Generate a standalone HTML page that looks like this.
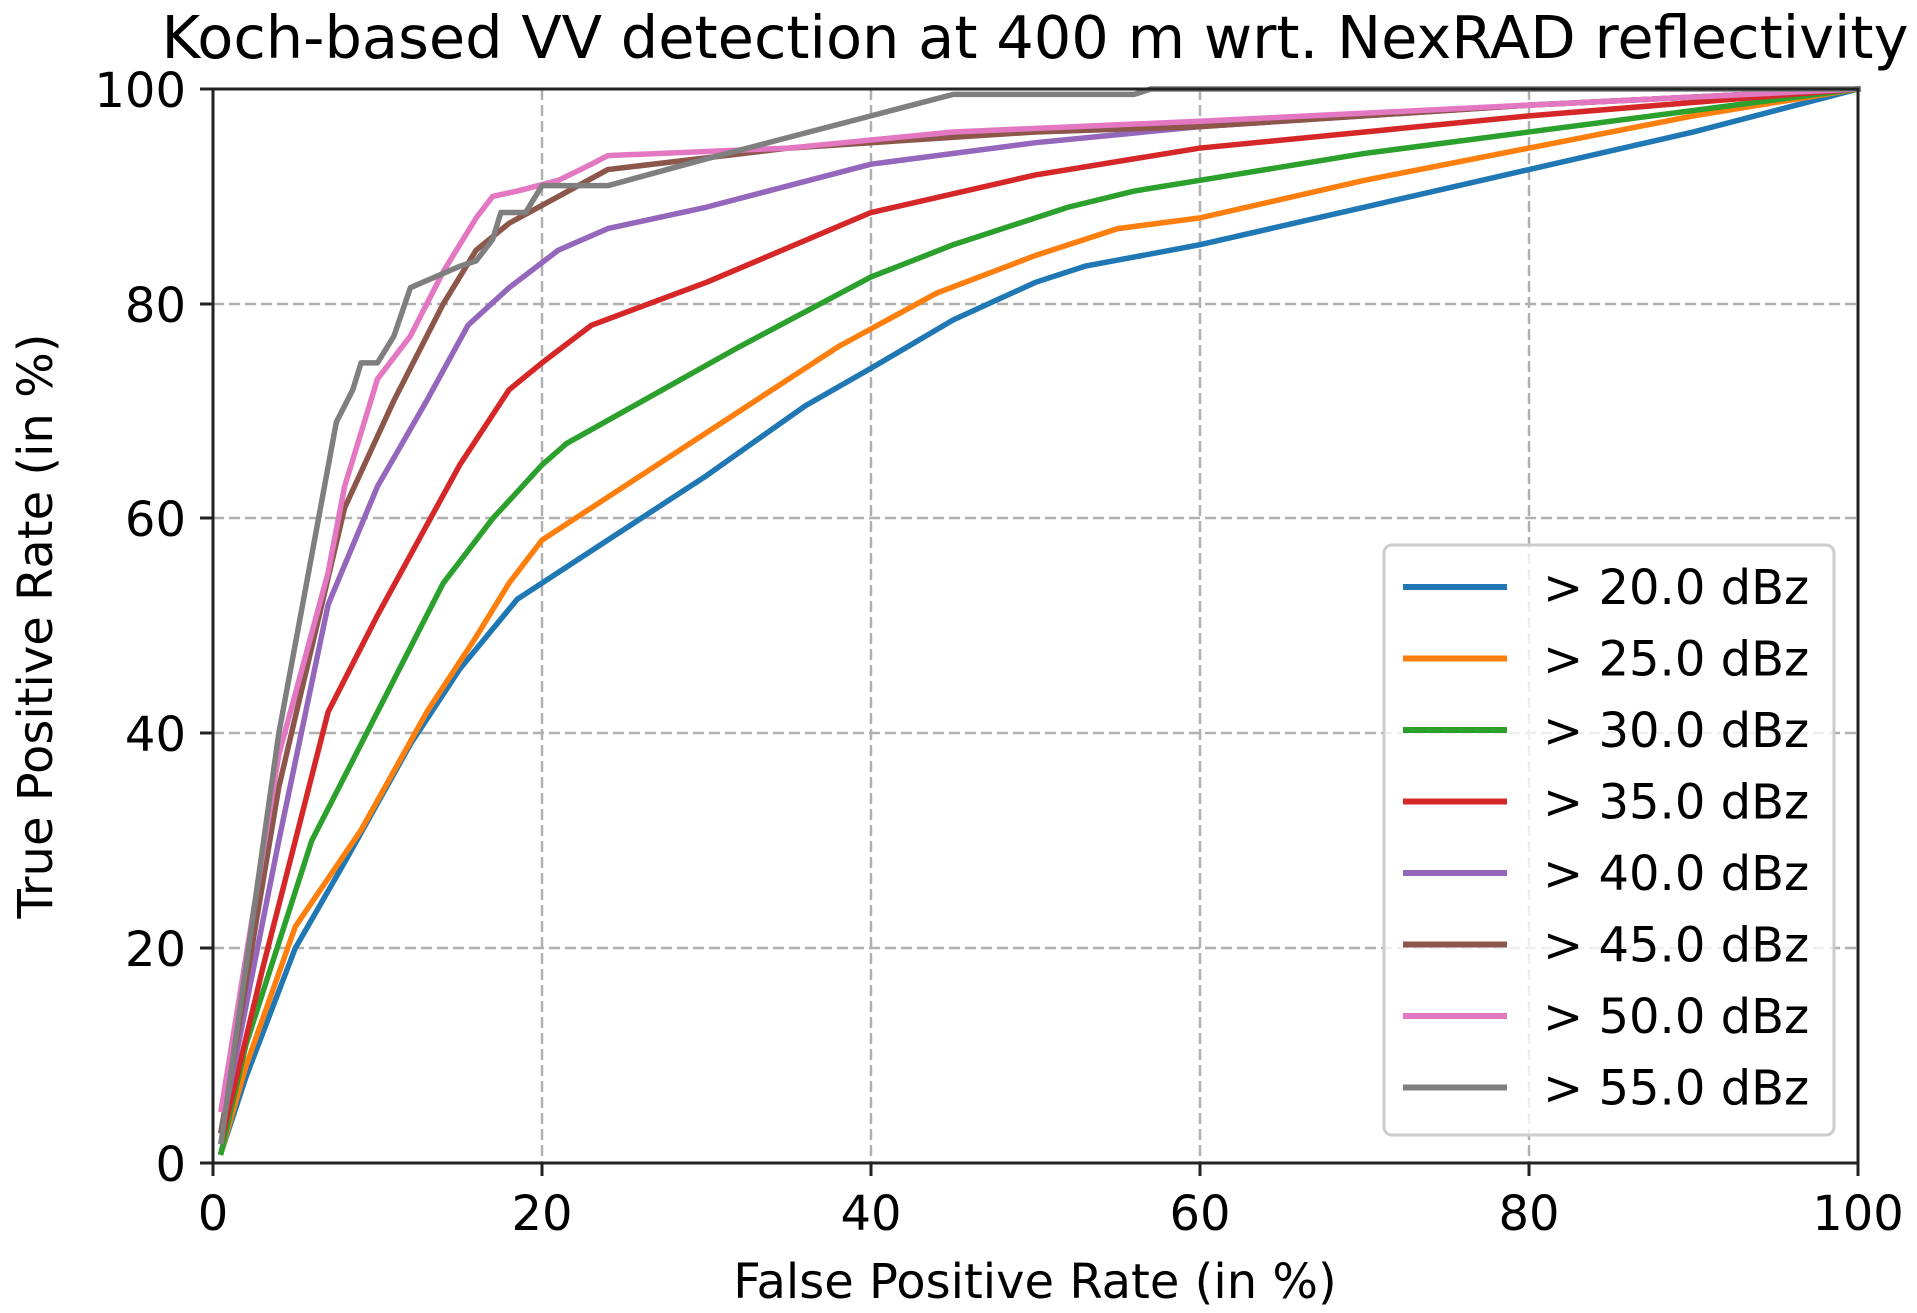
<!DOCTYPE html>
<html><head><meta charset="utf-8"><style>
html,body{margin:0;padding:0;background:#fff;}
svg{display:block;font-family:"DejaVu Sans","Liberation Sans",sans-serif;}
</style></head><body>
<svg width="1917" height="1313" viewBox="0 0 1917 1313" xmlns="http://www.w3.org/2000/svg">
<rect width="1917" height="1313" fill="#fff"/>
<text x="1035" y="58" font-size="59" text-anchor="middle" fill="#000">Koch-based VV detection at 400 m wrt. NexRAD reflectivity</text>
<g stroke="#b0b0b0" stroke-width="2.5" stroke-dasharray="11,5" fill="none">
<line x1="542" y1="89" x2="542" y2="1163"/><line x1="871" y1="89" x2="871" y2="1163"/><line x1="1200" y1="89" x2="1200" y2="1163"/><line x1="1529" y1="89" x2="1529" y2="1163"/>
<line x1="213" y1="948" x2="1858" y2="948"/><line x1="213" y1="733" x2="1858" y2="733"/><line x1="213" y1="518" x2="1858" y2="518"/><line x1="213" y1="304" x2="1858" y2="304"/>
</g>
<g transform="matrix(16.45 0 0 -10.74 213 1163)" fill="none" stroke-width="5.5" stroke-linejoin="round" stroke-linecap="square">
<polyline vector-effect="non-scaling-stroke" stroke="#1f77b4" points="0.5,1 2,8 5,20 8,28 12,39 15,46 18.5,52.5 20,54 24,58 30,64 36,70.5 40,74 45,78.5 50,82 53,83.5 60,85.5 70,89 80,92.5 90,96 100,100"/>
<polyline vector-effect="non-scaling-stroke" stroke="#ff7f0e" points="0.5,1 2,9 5,22 9,31 13,42 16,49 18,54 20,58 24,62 30,68 38,76 44,81 50,84.5 55,87 60,88 70,91.5 80,94.5 90,97.5 100,100"/>
<polyline vector-effect="non-scaling-stroke" stroke="#2ca02c" points="0.5,1 2,11 6,30 10,42 14,54 17,60 20,65 21.5,67 25,70 32,76 40,82.5 45,85.5 52,89 56,90.5 60,91.5 70,94 80,96 90,98 100,100"/>
<polyline vector-effect="non-scaling-stroke" stroke="#d62728" points="0.5,2 3,18 7,42 10,51 15,65 18,72 20,74.5 23,78 30,82 40,88.5 50,92 60,94.5 70,96 80,97.5 100,100"/>
<polyline vector-effect="non-scaling-stroke" stroke="#9467bd" points="0.5,3 4,30 7,52 10,63 13,71 15.5,78 18,81.5 21,85 24,87 30,89 40,93 50,95 60,96.5 80,98.5 100,100"/>
<polyline vector-effect="non-scaling-stroke" stroke="#8c564b" points="0.5,3 4,35 8,61 11,71 14,80 16,85 18,87.5 21,90 24,92.5 35,94.5 50,96 60,96.5 80,98.5 100,100"/>
<polyline vector-effect="non-scaling-stroke" stroke="#e377c2" points="0.5,5 4,38 7,55 8,63 10,73 12,77 14,83 16,88 17,90 18.5,90.5 21,91.5 23,93 24,93.8 35,94.5 45,96 60,97 80,98.5 100,100"/>
<polyline vector-effect="non-scaling-stroke" stroke="#7f7f7f" points="0.5,2 4,40 7.5,69 8.5,72 9,74.5 10,74.5 11,77 12,81.5 15,83.5 16,84 17,86 17.5,88.5 19,88.5 20,91 24,91 30,93.5 40,97.5 45,99.5 56,99.5 57,100 100,100"/>
</g>
<rect x="213" y="89" width="1645" height="1074" fill="none" stroke="#222" stroke-width="3"/>
<g stroke="#222" stroke-width="3">
<line x1="213" y1="1163" x2="213" y2="1176"/><line x1="542" y1="1163" x2="542" y2="1176"/><line x1="871" y1="1163" x2="871" y2="1176"/><line x1="1200" y1="1163" x2="1200" y2="1176"/><line x1="1529" y1="1163" x2="1529" y2="1176"/><line x1="1858" y1="1163" x2="1858" y2="1176"/>
<line x1="200" y1="89" x2="213" y2="89"/><line x1="200" y1="304" x2="213" y2="304"/><line x1="200" y1="518" x2="213" y2="518"/><line x1="200" y1="733" x2="213" y2="733"/><line x1="200" y1="948" x2="213" y2="948"/><line x1="200" y1="1163" x2="213" y2="1163"/>
</g>
<g font-size="48" fill="#000" text-anchor="middle">
<text x="213" y="1230">0</text><text x="542" y="1230">20</text><text x="871" y="1230">40</text><text x="1200" y="1230">60</text><text x="1529" y="1230">80</text><text x="1858" y="1230">100</text>
</g>
<g font-size="48" fill="#000" text-anchor="end">
<text x="186" y="107">100</text><text x="186" y="322">80</text><text x="186" y="536">60</text><text x="186" y="751">40</text><text x="186" y="966">20</text><text x="186" y="1181">0</text>
</g>
<text x="1035" y="1298" font-size="48" text-anchor="middle">False Positive Rate (in %)</text>
<text transform="translate(52,626) rotate(-90)" font-size="48" text-anchor="middle">True Positive Rate (in %)</text>
<rect x="1384" y="545" width="450" height="590" rx="8" fill="#fff" fill-opacity="0.8" stroke="#cccccc" stroke-width="3"/>
<g stroke-width="6">
<line x1="1403" y1="587" x2="1507" y2="587" stroke="#1f77b4"/>
<line x1="1403" y1="658.5" x2="1507" y2="658.5" stroke="#ff7f0e"/>
<line x1="1403" y1="730" x2="1507" y2="730" stroke="#2ca02c"/>
<line x1="1403" y1="801.5" x2="1507" y2="801.5" stroke="#d62728"/>
<line x1="1403" y1="873" x2="1507" y2="873" stroke="#9467bd"/>
<line x1="1403" y1="944.5" x2="1507" y2="944.5" stroke="#8c564b"/>
<line x1="1403" y1="1016" x2="1507" y2="1016" stroke="#e377c2"/>
<line x1="1403" y1="1087.5" x2="1507" y2="1087.5" stroke="#7f7f7f"/>
</g>
<g font-size="48" fill="#000">
<text x="1543" y="604">&gt; 20.0 dBz</text>
<text x="1543" y="675.5">&gt; 25.0 dBz</text>
<text x="1543" y="747">&gt; 30.0 dBz</text>
<text x="1543" y="818.5">&gt; 35.0 dBz</text>
<text x="1543" y="890">&gt; 40.0 dBz</text>
<text x="1543" y="961.5">&gt; 45.0 dBz</text>
<text x="1543" y="1033">&gt; 50.0 dBz</text>
<text x="1543" y="1104.5">&gt; 55.0 dBz</text>
</g>
</svg>
</body></html>
